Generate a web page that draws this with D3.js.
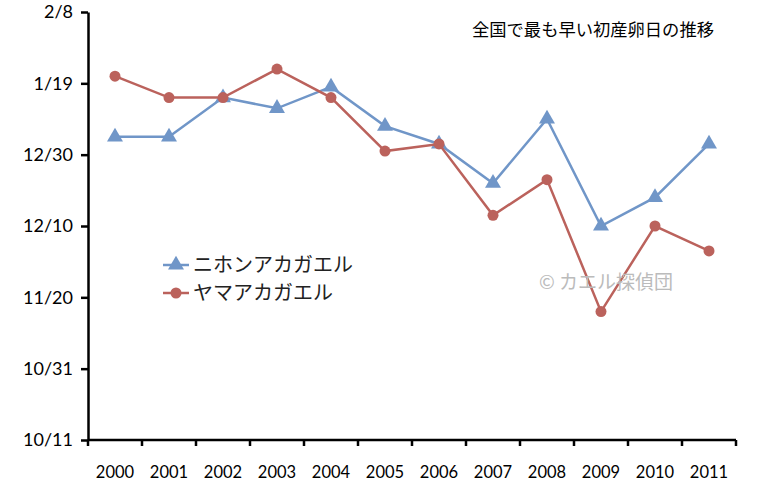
<!DOCTYPE html>
<html>
<head>
<meta charset="utf-8">
<script src="https://cdn.jsdelivr.net/npm/d3@7"></script>
<style>
  body { margin: 0; background: #fff; }
  text { font-family: Lato, "Open Sans", sans-serif; }
  .jp { font-family: "Noto Sans CJK JP", sans-serif; }
</style>
</head>
<body>
<script>
var years = ["2000", "2001", "2002", "2003", "2004", "2005", "2006", "2007", "2008", "2009", "2010", "2011"];
// earliest first spawning date per season (month/day)
var nihon = ["1/4", "1/4", "1/15", "1/12", "1/18", "1/7", "1/2", "12/22", "1/9", "12/10", "12/18", "1/2"];
var yama = ["1/21", "1/15", "1/15", "1/23", "1/15", "12/31", "1/2", "12/13", "12/23", "11/16", "12/10", "12/3"];
var yTicks = ["10/11", "10/31", "11/20", "12/10", "12/30", "1/19", "2/8"];

var w = 765;
var h = 500;

// autumn months go in 2000, winter months in 2001, so the season is continuous
function toDate(s) {
    var p = s.split("/");
    var m = +p[0], d = +p[1];
    return new Date(m >= 9 ? 2000 : 2001, m - 1, d);
}

var svg = d3.select("body").append("svg")
    .attr("width", w).attr("height", h);

var x = d3.scaleBand()
    .domain(years)
    .range([88, 736]);

var y = d3.scaleTime()
    .domain([toDate("10/11"), toDate("2/8")])
    .range([440, 12]);

// y axis
var yAxis = d3.axisLeft(y)
    .tickValues(yTicks.map(toDate))
    .tickFormat(function (d) { return (d.getMonth() + 1) + "/" + d.getDate(); })
    .tickSizeInner(7)
    .tickSizeOuter(0)
    .tickPadding(8);

var gy = svg.append("g")
    .attr("transform", "translate(88,0)")
    .call(yAxis);
gy.select(".domain").attr("stroke", "#000").attr("stroke-width", 2.5);
gy.selectAll(".tick line").attr("stroke", "#000").attr("stroke-width", 2.5);
gy.selectAll(".tick text")
    .attr("font-family", "Lato, 'Open Sans', sans-serif")
    .attr("font-size", 18)
    .attr("fill", "#000");

// x axis, ticks between categories
var gx = svg.append("g")
    .attr("transform", "translate(0,440)");
gx.append("line")
    .attr("x1", 88).attr("x2", 736)
    .attr("stroke", "#000").attr("stroke-width", 2.5);
var bounds = years.map(function (d) { return x(d); }).concat([x.range()[1]]);
gx.selectAll(".xt")
    .data(bounds)
    .enter()
    .append("line")
    .attr("class", "xt")
    .attr("x1", function (d) { return d; })
    .attr("x2", function (d) { return d; })
    .attr("y1", 0).attr("y2", 6)
    .attr("stroke", "#000").attr("stroke-width", 2.5);
gx.selectAll(".xl")
    .data(years)
    .enter()
    .append("text")
    .attr("class", "xl")
    .attr("x", function (d) { return x(d) + x.bandwidth() / 2; })
    .attr("y", 38)
    .attr("text-anchor", "middle")
    .attr("font-size", 16.5)
    .attr("fill", "#000")
    .text(function (d) { return d; });

var series = [
    { name: "ニホンアカガエル", values: nihon, color: "#7096c8", marker: "tri" },
    { name: "ヤマアカガエル", values: yama, color: "#bb625c", marker: "dot" }
];

var line = d3.line()
    .x(function (d, i) { return x(years[i]) + x.bandwidth() / 2; })
    .y(function (d) { return y(toDate(d)); });

var triangle = d3.symbol().type(d3.symbolTriangle).size(110);

function drawMarker(g, s) {
    if (s.marker == "tri") {
        g.append("path").attr("d", triangle).attr("fill", s.color);
    } else {
        g.append("circle").attr("r", 5.5).attr("fill", s.color);
    }
}

series.forEach(function (s) {
    svg.append("path")
        .datum(s.values)
        .attr("d", line)
        .attr("fill", "none")
        .attr("stroke", s.color)
        .attr("stroke-width", 2.5);
    svg.selectAll(".m-" + s.marker)
        .data(s.values)
        .enter()
        .append("g")
        .attr("class", "m-" + s.marker)
        .attr("transform", function (d, i) {
            return "translate(" + (x(years[i]) + x.bandwidth() / 2) + "," + y(toDate(d)) + ")";
        })
        .each(function () { drawMarker(d3.select(this), s); });
});

// legend
var legend = svg.append("g").attr("transform", "translate(163,265)");
series.forEach(function (s, i) {
    var g = legend.append("g").attr("transform", "translate(0," + (i * 28) + ")");
    g.append("line")
        .attr("x1", 0).attr("x2", 26)
        .attr("stroke", s.color).attr("stroke-width", 2.5);
    var m = g.append("g").attr("transform", "translate(13,0)");
    drawMarker(m, s);
    g.append("text")
        .attr("class", "jp")
        .attr("x", 30)
        .attr("y", 7)
        .attr("font-size", 20)
        .attr("fill", "#222")
        .text(s.name);
});

// title
svg.append("text")
    .attr("class", "jp")
    .attr("x", 472)
    .attr("y", 36)
    .attr("font-size", 17.3)
    .attr("fill", "#000")
    .text("全国で最も早い初産卵日の推移");

// watermark
svg.append("text")
    .attr("class", "jp")
    .attr("x", 539)
    .attr("y", 289)
    .attr("font-size", 19)
    .attr("fill", "#bbb")
    .text("© カエル探偵団");
</script>
</body>
</html>
